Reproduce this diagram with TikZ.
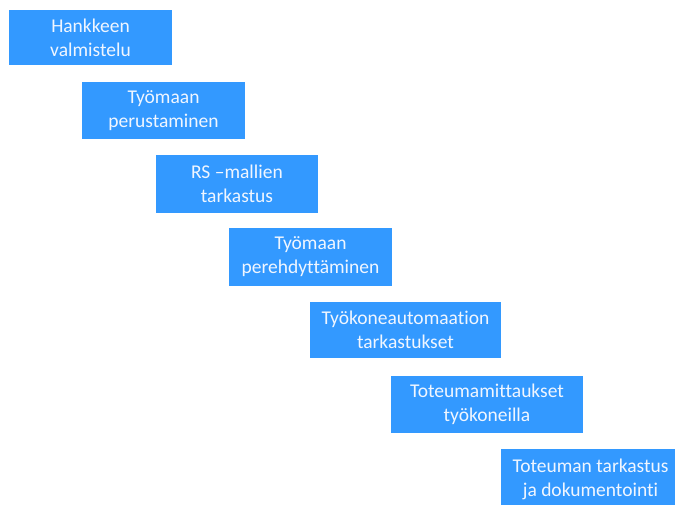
\documentclass[tikz,border=0pt]{standalone}
\usepackage{fontspec}
\setmainfont[Ligatures=NoCommon]{Carlito}
\definecolor{boxblue}{RGB}{51,153,255}
\definecolor{boxtext}{RGB}{240,246,255}
\tikzset{stepbox/.style={fill=none,draw=none,text=boxtext,align=center,
  font=\fontsize{19.5}{24}\selectfont,inner sep=0pt}}
\begin{document}
\begin{tikzpicture}[x=1pt,y=-1pt]
\useasboundingbox (0,0) rectangle (675,505);
\clip (0,0) rectangle (675,505);
\fill[white] (0,0) rectangle (675,505);
\newcommand{\stepnode}[6]{%
  \fill[boxblue] (#2,#3) rectangle (#4,#5);
  \node[stepbox] (#1) at ({(#2+#4)/2},{(#3+#5)/2}) {#6};}
\stepnode{s1}{9}{10}{172}{65}{Hankkeen\\valmistelu}
\stepnode{s2}{82}{82}{245}{139}{Työmaan\\perustaminen}
\stepnode{s3}{156}{155}{318}{213}{RS –mallien\\tarkastus}
\stepnode{s4}{229}{228}{392}{286}{Työmaan\\perehdyttäminen}
\stepnode{s5}{310}{302}{501}{358}{Työkoneautomaation\\tarkastukset}
\stepnode{s6}{391}{376}{583}{433}{Toteumamittaukset\\työkoneilla}
\stepnode{s7}{501}{449}{680}{510}{Toteuman tarkastus\\ja dokumentointi}
\end{tikzpicture}
\end{document}
